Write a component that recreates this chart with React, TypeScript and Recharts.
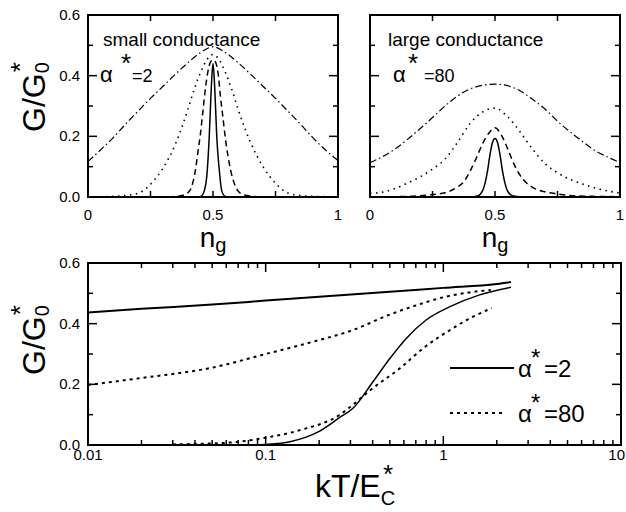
import React from 'react';
import { LineChart, Line, XAxis, YAxis } from 'recharts';

// ---- top left panel: small conductance, alpha* = 2 ----
const nSmallDashDot = [0, 0.05, 0.1, 0.15, 0.2, 0.25, 0.3, 0.35, 0.4, 0.45, 0.5, 0.55, 0.6, 0.65, 0.7, 0.75, 0.8, 0.85, 0.9, 0.95, 1];
const gSmallDashDot = [0.117, 0.155, 0.195, 0.24, 0.283, 0.325, 0.365, 0.405, 0.443, 0.476, 0.495, 0.476, 0.443, 0.405, 0.365, 0.325, 0.283, 0.24, 0.195, 0.155, 0.12];

const nSmallDotted = [0, 0.05, 0.1, 0.15, 0.2, 0.25, 0.3, 0.35, 0.4, 0.425, 0.45, 0.475, 0.5, 0.525, 0.55, 0.575, 0.6, 0.65, 0.7, 0.75, 0.8, 0.85, 0.9, 0.95, 1];
const gSmallDotted = [0.0, 0.001, 0.002, 0.005, 0.012, 0.042, 0.095, 0.175, 0.29, 0.355, 0.41, 0.452, 0.47, 0.452, 0.41, 0.355, 0.29, 0.18, 0.1, 0.045, 0.013, 0.005, 0.002, 0.001, 0.0];

const nSmallDashed = [0, 0.3, 0.35, 0.38, 0.4, 0.415, 0.43, 0.44, 0.45, 0.46, 0.47, 0.48, 0.49, 0.5, 0.51, 0.52, 0.53, 0.54, 0.55, 0.56, 0.57, 0.585, 0.6, 0.62, 0.65, 0.7, 1];
const gSmallDashed = [0, 0, 0.002, 0.006, 0.014, 0.035, 0.09, 0.15, 0.21, 0.285, 0.36, 0.415, 0.445, 0.452, 0.445, 0.41, 0.33, 0.26, 0.19, 0.135, 0.09, 0.045, 0.02, 0.008, 0.003, 0.001, 0];

const nSmallSolid = [0, 0.44, 0.455, 0.465, 0.475, 0.485, 0.49, 0.495, 0.5, 0.505, 0.51, 0.515, 0.525, 0.535, 0.545, 0.56, 1];
const gSmallSolid = [0, 0, 0.004, 0.02, 0.067, 0.2, 0.3, 0.39, 0.44, 0.39, 0.3, 0.2, 0.09, 0.02, 0.004, 0, 0];

// ---- top right panel: large conductance, alpha* = 80 ----
const nLargeDashDot = [0, 0.05, 0.1, 0.15, 0.2, 0.25, 0.3, 0.35, 0.4, 0.45, 0.5, 0.55, 0.6, 0.65, 0.7, 0.75, 0.8, 0.85, 0.9, 0.95, 1];
const gLargeDashDot = [0.113, 0.133, 0.158, 0.19, 0.225, 0.262, 0.3, 0.333, 0.356, 0.368, 0.372, 0.367, 0.35, 0.322, 0.29, 0.25, 0.215, 0.183, 0.153, 0.132, 0.113];

const nLargeDotted = [0, 0.05, 0.1, 0.15, 0.2, 0.25, 0.3, 0.35, 0.4, 0.45, 0.5, 0.55, 0.6, 0.65, 0.7, 0.75, 0.8, 0.85, 0.9, 0.95, 1];
const gLargeDotted = [0.012, 0.016, 0.028, 0.046, 0.066, 0.092, 0.125, 0.18, 0.242, 0.28, 0.293, 0.265, 0.215, 0.158, 0.11, 0.08, 0.058, 0.043, 0.03, 0.02, 0.013];

const nLargeDashed = [0, 0.1, 0.2, 0.25, 0.3, 0.35, 0.375, 0.4, 0.425, 0.45, 0.475, 0.5, 0.525, 0.55, 0.575, 0.6, 0.625, 0.65, 0.7, 0.75, 0.8, 0.9, 1];
const gLargeDashed = [0, 0.001, 0.004, 0.008, 0.014, 0.033, 0.05, 0.085, 0.128, 0.175, 0.21, 0.228, 0.205, 0.16, 0.11, 0.072, 0.047, 0.032, 0.017, 0.01, 0.005, 0.002, 0.001];

const nLargeSolid = [0, 0.4, 0.43, 0.45, 0.46, 0.47, 0.48, 0.49, 0.5, 0.51, 0.52, 0.53, 0.54, 0.55, 0.57, 0.6, 1];
const gLargeSolid = [0, 0, 0.003, 0.02, 0.045, 0.085, 0.14, 0.18, 0.193, 0.18, 0.14, 0.085, 0.045, 0.02, 0.004, 0.001, 0];

// ---- bottom panel: G vs kT/Ec* (log) ----
const tUpperSolid = [0.01, 0.02, 0.05, 0.1, 0.2, 0.5, 1, 2, 2.4];
const gUpperSolid = [0.437, 0.449, 0.463, 0.476, 0.489, 0.505, 0.518, 0.531, 0.537];

const tUpperDotted = [0.01, 0.02, 0.05, 0.1, 0.2, 0.3, 0.5, 0.7, 1, 1.4, 1.85];
const gUpperDotted = [0.198, 0.221, 0.255, 0.3, 0.346, 0.376, 0.43, 0.46, 0.487, 0.503, 0.511];

const tLowerSolid = [0.08, 0.1, 0.137, 0.2, 0.26, 0.31, 0.4, 0.5, 0.62, 0.8, 1.09, 1.6, 2.4];
const gLowerSolid = [0, 0.002, 0.011, 0.045, 0.09, 0.121, 0.207, 0.285, 0.352, 0.412, 0.456, 0.495, 0.52];

const tLowerDotted = [0.03, 0.043, 0.063, 0.1, 0.156, 0.26, 0.3, 0.4, 0.57, 0.77, 1.09, 1.47, 1.87];
const gLowerDotted = [0.002, 0.004, 0.008, 0.024, 0.049, 0.099, 0.126, 0.187, 0.253, 0.319, 0.379, 0.423, 0.451];

// ticks
const gTicks = [0, 0.1, 0.2, 0.3, 0.4, 0.5, 0.6];
const gMajor = [0, 0.2, 0.4, 0.6];
const gMajorLabels = ['0.0', '0.2', '0.4', '0.6'];
const ngTicks = [0, 0.25, 0.5, 0.75, 1];
const ngMajor = [0, 0.5, 1];
const ngMajorLabels = ['0', '0.5', '1'];
const tTicks = [0.01, 0.02, 0.03, 0.04, 0.05, 0.06, 0.07, 0.08, 0.09, 0.1, 0.2, 0.3, 0.4, 0.5, 0.6, 0.7, 0.8, 0.9, 1, 2, 3, 4, 5, 6, 7, 8, 9, 10];
const tMajor = [0.01, 0.1, 1, 10];
const tMajorLabels = ['0.01', '0.1', '1', '10'];

const FONT = '"Liberation Sans", Arial, Helvetica, sans-serif';

const zip = (xs: number[], ys: number[], k: string) => xs.map((x, i) => ({ [k]: x, g: ys[i] }));
const isIn = (arr: number[], v: number) => arr.some((m) => Math.abs(m - v) < 1e-9);

// tick labels only, drawn by the library at its own tick positions
function labelTick(side: 'bottom' | 'left', majors: number[], labels: string[], off: number) {
  return (props: any) => {
    const x = Number(props.x);
    const y = Number(props.y);
    const idx = majors.findIndex((m) => Math.abs(m - props.payload.value) < 1e-9);
    if (idx < 0) return <g />;
    const lab = labels[idx];
    if (side === 'left') {
      return <text x={x - off} y={y + 5} textAnchor="end" fontSize={15} fontFamily={FONT} fill="#000">{lab}</text>;
    }
    const last = lab === '10';
    return <text x={last ? x + 4 : x} y={y + off} textAnchor={last ? 'end' : 'middle'} fontSize={15} fontFamily={FONT} fill="#000">{lab}</text>;
  };
}

const axisLine = { stroke: '#000', strokeWidth: 2 };

type Curve = { data: any[]; dash?: string; width: number };

function NgPanel({ curves, width, left, right, showLabels }: { curves: Curve[]; width: number; left: number; right: number; showLabels: boolean }) {
  return (
    <LineChart width={width} height={255} margin={{ top: 15, left, right, bottom: 38 }}>
      <XAxis dataKey="n" type="number" domain={[0, 1]} ticks={ngTicks} interval={0} allowDataOverflow height={20}
        axisLine={axisLine} tickLine={false} tickSize={0} tickMargin={0}
        tick={labelTick('bottom', ngMajor, ngMajorLabels, 23)} />
      <YAxis type="number" domain={[0, 0.6]} ticks={gTicks} interval={0} allowDataOverflow width={40}
        axisLine={axisLine} tickLine={false} tickSize={0} tickMargin={0}
        tick={showLabels ? labelTick('left', gMajor, gMajorLabels, 8) : false} />
      {curves.map((c, i) => (
        <Line key={i} data={c.data} dataKey="g" type="monotone" stroke="#000" strokeWidth={c.width}
          strokeDasharray={c.dash} dot={false} activeDot={false} isAnimationActive={false} />
      ))}
    </LineChart>
  );
}

// inner frame ticks for a panel box (same domains as the chart axes)
function Frame({ x0, x1, y0, y1, xTicks, xMajor, xMajLen, xMinLen, xPos }: {
  x0: number; x1: number; y0: number; y1: number; xTicks: number[]; xMajor: number[]; xMajLen: number; xMinLen: number; xPos: (v: number) => number;
}) {
  const yPos = (g: number) => y1 - (g / 0.6) * (y1 - y0);
  return (
    <g stroke="#000" fill="none">
      <rect x={x0} y={y0} width={x1 - x0} height={y1 - y0} strokeWidth={2} />
      {xTicks.map((v) => {
        const px = xPos(v);
        const len = isIn(xMajor, v) ? xMajLen : xMinLen;
        return (
          <g key={'x' + v} strokeWidth={1.5}>
            <line x1={px} y1={y1} x2={px} y2={y1 - len} />
            <line x1={px} y1={y0} x2={px} y2={y0 + len} />
          </g>
        );
      })}
      {gTicks.map((v) => {
        const py = yPos(v);
        const len = isIn(gMajor, v) ? 9 : 5;
        return (
          <g key={'y' + v} strokeWidth={1.5}>
            <line x1={x0} y1={py} x2={x0 + len} y2={py} />
            <line x1={x1} y1={py} x2={x1 - len} y2={py} />
          </g>
        );
      })}
    </g>
  );
}

const Star = ({ dx, dy }: { dx: number; dy: number }) => <tspan fontSize={26} dx={dx} dy={dy}>*</tspan>;

export default function App() {
  const smallCurves: Curve[] = [
    { data: zip(nSmallDashDot, gSmallDashDot, 'n'), dash: '7 3 1.5 3', width: 1.2 },
    { data: zip(nSmallDotted, gSmallDotted, 'n'), dash: '1.5 4.5', width: 1.6 },
    { data: zip(nSmallDashed, gSmallDashed, 'n'), dash: '6 4', width: 1.5 },
    { data: zip(nSmallSolid, gSmallSolid, 'n'), width: 1.5 },
  ];
  const largeCurves: Curve[] = [
    { data: zip(nLargeDashDot, gLargeDashDot, 'n'), dash: '7 3 1.5 3', width: 1.2 },
    { data: zip(nLargeDotted, gLargeDotted, 'n'), dash: '1.5 4.5', width: 1.6 },
    { data: zip(nLargeDashed, gLargeDashed, 'n'), dash: '6 4', width: 1.5 },
    { data: zip(nLargeSolid, gLargeSolid, 'n'), width: 1.5 },
  ];
  const bottomCurves: Curve[] = [
    { data: zip(tUpperSolid, gUpperSolid, 't'), width: 2 },
    { data: zip(tUpperDotted, gUpperDotted, 't'), dash: '3 4', width: 2 },
    { data: zip(tLowerSolid, gLowerSolid, 't'), width: 1.5 },
    { data: zip(tLowerDotted, gLowerDotted, 't'), dash: '3 4', width: 2 },
  ];

  return (
    <div style={{ position: 'absolute', left: 0, top: 0, width: 626, height: 512, background: '#fff', overflow: 'hidden' }}>
      <div style={{ position: 'absolute', left: 0, top: 0, width: 345, height: 255 }}>
        <NgPanel curves={smallCurves} width={345} left={48} right={7} showLabels />
      </div>
      <div style={{ position: 'absolute', left: 320, top: 0, width: 306, height: 255 }}>
        <NgPanel curves={largeCurves} width={306} left={10} right={6} showLabels={false} />
      </div>
      <div style={{ position: 'absolute', left: 0, top: 255, width: 626, height: 257 }}>
        <LineChart width={626} height={257} margin={{ top: 8, left: 48, right: 5, bottom: 47 }}>
          <XAxis dataKey="t" type="number" scale="log" domain={[0.01, 10]} ticks={tTicks} interval={0} allowDataOverflow height={20}
            axisLine={axisLine} tickLine={false} tickSize={0} tickMargin={0}
            tick={labelTick('bottom', tMajor, tMajorLabels, 15)} />
          <YAxis type="number" domain={[0, 0.6]} ticks={gTicks} interval={0} allowDataOverflow width={40}
            axisLine={axisLine} tickLine={false} tickSize={0} tickMargin={0}
            tick={labelTick('left', gMajor, gMajorLabels, 8)} />
          {bottomCurves.map((c, i) => (
            <Line key={i} data={c.data} dataKey="g" type="monotone" stroke="#000" strokeWidth={c.width}
              strokeDasharray={c.dash} dot={false} activeDot={false} isAnimationActive={false} />
          ))}
        </LineChart>
      </div>
      <svg width={626} height={512} style={{ position: 'absolute', left: 0, top: 0, pointerEvents: 'none' }} fontFamily={FONT}>
        {/* panel frames with inward ticks */}
        <Frame x0={88} x1={338} y0={15} y1={197} xTicks={ngTicks} xMajor={ngMajor} xMajLen={6} xMinLen={6} xPos={(n) => 88 + n * 250} />
        <Frame x0={370} x1={620} y0={15} y1={197} xTicks={ngTicks} xMajor={ngMajor} xMajLen={6} xMinLen={6} xPos={(n) => 370 + n * 250} />
        <Frame x0={88} x1={621} y0={263} y1={445} xTicks={tTicks} xMajor={tMajor} xMajLen={9} xMinLen={5}
          xPos={(t) => 88 + ((Math.log10(t) + 2) / 3) * 533} />

        {/* annotations */}
        <text x={103} y={46} fontSize={19}>small conductance</text>
        <text x={100} y={82} fontSize={22}>α</text>
        <text x={121} y={72} fontSize={26}>*</text>
        <text x={132} y={82} fontSize={18}>=2</text>
        <text x={388} y={46} fontSize={19}>large conductance</text>
        <text x={393} y={82} fontSize={22}>α</text>
        <text x={408} y={72} fontSize={26}>*</text>
        <text x={424} y={82} fontSize={18}>=80</text>

        {/* axis titles */}
        <text x={45} y={97} transform="rotate(-90 45 97)" textAnchor="middle" fontSize={32}>
          G/G<tspan fontSize={20} dy={4}>0</tspan><Star dx={-10} dy={-20} />
        </text>
        <text x={45} y={340} transform="rotate(-90 45 340)" textAnchor="middle" fontSize={32}>
          G/G<tspan fontSize={20} dy={4}>0</tspan><Star dx={-10} dy={-20} />
        </text>
        <text x={213} y={247} textAnchor="middle" fontSize={28}>n<tspan fontSize={20} dy={5}>g</tspan></text>
        <text x={495} y={247} textAnchor="middle" fontSize={28}>n<tspan fontSize={20} dy={5}>g</tspan></text>
        <text x={355} y={497} textAnchor="middle" fontSize={32}>
          kT/E<tspan fontSize={20} dy={8}>C</tspan><Star dx={-12} dy={-22} />
        </text>

        {/* legend */}
        <line x1={450} y1={368} x2={514} y2={368} stroke="#000" strokeWidth={2} />
        <text x={518} y={377} fontSize={24}>α</text>
        <text x={531} y={366} fontSize={24}>*</text>
        <text x={544} y={377} fontSize={24}>=2</text>
        <line x1={450} y1={413} x2={504} y2={413} stroke="#000" strokeWidth={2} strokeDasharray="3 4" />
        <text x={518} y={422} fontSize={24}>α</text>
        <text x={531} y={411} fontSize={24}>*</text>
        <text x={544} y={422} fontSize={24}>=80</text>
      </svg>
    </div>
  );
}
